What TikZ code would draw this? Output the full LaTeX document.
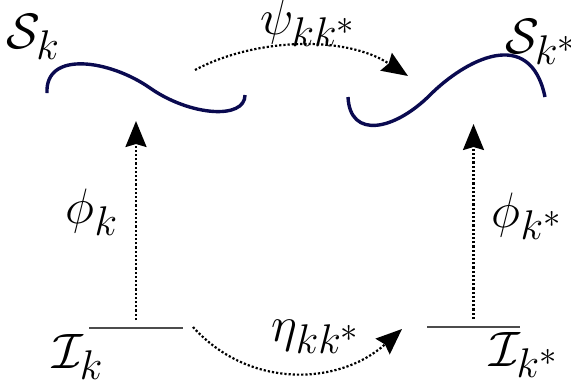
\documentclass[tikz,border=0pt]{standalone}
\usepackage{amsmath,amssymb}
\usepackage{tikz}
\usetikzlibrary{arrows.meta,positioning,calc}
\definecolor{navy}{RGB}{10,10,80}

\begin{document}
\begin{tikzpicture}[x=0.5pt,y=-0.5pt,
  lbl/.style={inner sep=0pt, font=\Huge},
  crv/.style={navy, line width=1.7pt},
  map/.style={densely dotted, line width=1.1pt, -{Stealth[length=13pt,width=10.5pt,inset=1.5pt]}},
  base/.style={black!70, line width=0.8pt}]
\useasboundingbox (0,0) rectangle (571,380);
% labels
\node[lbl] (Sk)   at (33,37)   {$\mathcal{S}_k$};
\node[lbl] (Sks)  at (541,42)  {$\mathcal{S}_{k^*}$};
\node[lbl] (psi)  at (308,23)  {$\psi_{kk^*}$};
\node[lbl] (phk)  at (92,212)  {$\phi_k$};
\node[lbl] (phks) at (527,216) {$\phi_{k^*}$};
\node[lbl] (Ik)   at (78,357)  {$\mathcal{I}_k$};
\node[lbl] (Iks)  at (524,355) {$\mathcal{I}_{k^*}$};
\node[lbl] (eta)  at (316,337) {$\eta_{kk^*}$};
% base lines
\coordinate (Ikl) at (89,328);  \coordinate (Ikr) at (183,328);
\coordinate (Iksl) at (427,327); \coordinate (Iksr) at (520,327);
\draw[base] (Ikl) -- (Ikr);
\draw[base] (Iksl) -- (Iksr);
% manifolds
\draw[crv] (47,93) .. controls (45,50) and (110,60) .. (150,88)
  .. controls (190,116) and (245,120) .. (245,95);
\draw[crv] (348,97) .. controls (350,140) and (395,130) .. (430,95)
  .. controls (465,60) and (530,25) .. (545,97);
% maps
\coordinate (Ikm)  at ($(Ikl)!0.5!(Ikr)$);
\coordinate (Iksm) at ($(Iksl)!0.5!(Iksr)$);
\coordinate (Skm)  at (Ikm |- 0,121);
\coordinate (Sksm) at (Iksm |- 0,124);
\draw[map, shorten <=4pt] (Ikm) -- (Skm);
\draw[map, shorten <=4pt] (Iksm) -- (Sksm);
\coordinate (pa) at (195,70);  \coordinate (pb) at (408,76);
\draw[map] (pa) .. controls (255,38) and (345,35) .. (pb);
\coordinate (ea) at (193,327); \coordinate (eb) at (402,329);
\draw[map] (ea) .. controls (250,390) and (340,385) .. (eb);
\end{tikzpicture}
\end{document}
